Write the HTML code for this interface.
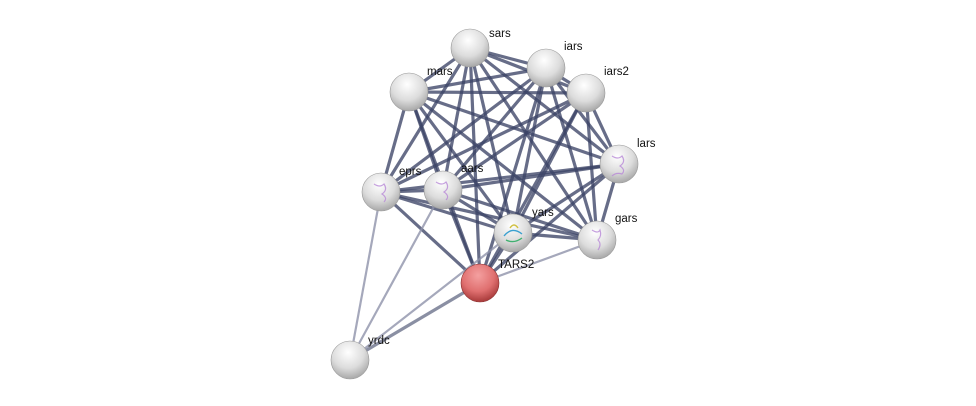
<!DOCTYPE html>
<html><head><style>
html,body{margin:0;padding:0;background:#fff;}
svg{display:block;}
text{font-family:"Liberation Sans",sans-serif;font-size:11.5px;fill:#111;}
</style></head><body>
<svg width="976" height="406" viewBox="0 0 976 406" xmlns="http://www.w3.org/2000/svg">
<defs>
<radialGradient id="g" cx="45%" cy="30%" r="70%">
<stop offset="0" stop-color="#ffffff"/><stop offset="0.6" stop-color="#dcdcdc"/><stop offset="1" stop-color="#a8a8a8"/>
</radialGradient>
<radialGradient id="r" cx="45%" cy="30%" r="70%">
<stop offset="0" stop-color="#f4a0a0"/><stop offset="0.6" stop-color="#e07070"/><stop offset="1" stop-color="#a83a3a"/>
</radialGradient>
</defs>
<g stroke="#3c4466" stroke-width="3.2" stroke-opacity="0.78" stroke-linecap="round">
<!-- dense cluster -->
<line x1="470" y1="48" x2="546" y2="68"/><line x1="470" y1="48" x2="409" y2="92"/><line x1="470" y1="48" x2="586" y2="93"/>
<line x1="470" y1="48" x2="619" y2="164"/><line x1="470" y1="48" x2="381" y2="192"/><line x1="470" y1="48" x2="443" y2="190"/>
<line x1="470" y1="48" x2="513" y2="233"/><line x1="470" y1="48" x2="597" y2="240"/><line x1="470" y1="48" x2="480" y2="283"/>
<line x1="546" y1="68" x2="409" y2="92"/><line x1="546" y1="68" x2="586" y2="93"/><line x1="546" y1="68" x2="619" y2="164"/>
<line x1="546" y1="68" x2="381" y2="192"/><line x1="546" y1="68" x2="443" y2="190"/><line x1="546" y1="68" x2="513" y2="233"/>
<line x1="546" y1="68" x2="597" y2="240"/><line x1="546" y1="68" x2="480" y2="283"/>
<line x1="409" y1="92" x2="586" y2="93"/><line x1="409" y1="92" x2="619" y2="164"/><line x1="409" y1="92" x2="381" y2="192"/>
<line x1="409" y1="92" x2="443" y2="190"/><line x1="409" y1="92" x2="513" y2="233"/><line x1="409" y1="92" x2="597" y2="240"/>
<line x1="409" y1="92" x2="480" y2="283"/>
<line x1="586" y1="93" x2="619" y2="164"/><line x1="586" y1="93" x2="381" y2="192"/><line x1="586" y1="93" x2="443" y2="190"/>
<line x1="586" y1="93" x2="513" y2="233"/><line x1="586" y1="93" x2="597" y2="240"/><line x1="586" y1="93" x2="480" y2="283"/>
<line x1="619" y1="164" x2="381" y2="192"/><line x1="619" y1="164" x2="443" y2="190"/><line x1="619" y1="164" x2="513" y2="233"/>
<line x1="619" y1="164" x2="597" y2="240"/><line x1="619" y1="164" x2="480" y2="283"/>
<line x1="381" y1="192" x2="443" y2="190"/><line x1="381" y1="192" x2="513" y2="233"/><line x1="381" y1="192" x2="597" y2="240"/>
<line x1="381" y1="192" x2="480" y2="283"/>
<line x1="443" y1="190" x2="513" y2="233"/><line x1="443" y1="190" x2="597" y2="240"/><line x1="443" y1="190" x2="480" y2="283"/>
<line x1="513" y1="233" x2="597" y2="240"/><line x1="513" y1="233" x2="480" y2="283"/>
<line x1="350" y1="360" x2="480" y2="283" stroke-opacity="0.6"/>
</g>
<g stroke="#8e92aa" stroke-width="2.2" stroke-opacity="0.8">
<line x1="597" y1="240" x2="480" y2="283"/>
<line x1="350" y1="360" x2="381" y2="192"/><line x1="350" y1="360" x2="443" y2="190"/>
<line x1="350" y1="360" x2="513" y2="233"/>
</g>
<g>
<circle cx="470" cy="48" r="19" fill="url(#g)" stroke="#999" stroke-width="0.6"/>
<circle cx="546" cy="68" r="19" fill="url(#g)" stroke="#999" stroke-width="0.6"/>
<circle cx="409" cy="92" r="19" fill="url(#g)" stroke="#999" stroke-width="0.6"/>
<circle cx="586" cy="93" r="19" fill="url(#g)" stroke="#999" stroke-width="0.6"/>
<circle cx="619" cy="164" r="19" fill="url(#g)" stroke="#999" stroke-width="0.6"/>
<circle cx="381" cy="192" r="19" fill="url(#g)" stroke="#999" stroke-width="0.6"/>
<circle cx="443" cy="190" r="19" fill="url(#g)" stroke="#999" stroke-width="0.6"/>
<circle cx="513" cy="233" r="19" fill="url(#g)" stroke="#999" stroke-width="0.6"/>
<circle cx="597" cy="240" r="19" fill="url(#g)" stroke="#999" stroke-width="0.6"/>
<circle cx="480" cy="283" r="19" fill="url(#r)" stroke="#8a3030" stroke-width="0.6"/>
<circle cx="350" cy="360" r="19" fill="url(#g)" stroke="#999" stroke-width="0.6"/>
<!-- protein structure hints -->
<g fill="none" stroke="#b98ad8" stroke-width="1.2" opacity="0.8">
<path d="M612 156 q6 4 10 0 q4 6 -2 10 q6 4 2 8 q-6 -2 -10 2"/>
<path d="M374 184 q6 4 10 0 q4 6 -2 10 q6 4 2 8"/>
<path d="M436 182 q6 4 10 0 q4 6 -2 10 q6 4 2 8"/>
<path d="M592 230 q6 4 8 0 q2 6 -2 10 q4 4 0 10"/>
</g>
<g fill="none" stroke-width="1.4">
<path d="M504 236 q8 -10 18 -2" stroke="#3aa0d0"/><path d="M506 240 q8 4 16 -2" stroke="#40b070"/><path d="M510 228 q4 -6 8 0" stroke="#d0c040"/>
</g>
</g>
<text x="489" y="37">sars</text>
<text x="564" y="50">iars</text>
<text x="427" y="75">mars</text>
<text x="604" y="75">iars2</text>
<text x="637" y="147">lars</text>
<text x="399" y="175">eprs</text>
<text x="461" y="172">aars</text>
<text x="532" y="216">yars</text>
<text x="615" y="222">gars</text>
<text x="498" y="268">TARS2</text>
<text x="368" y="344">yrdc</text>
</svg>
</body></html>
